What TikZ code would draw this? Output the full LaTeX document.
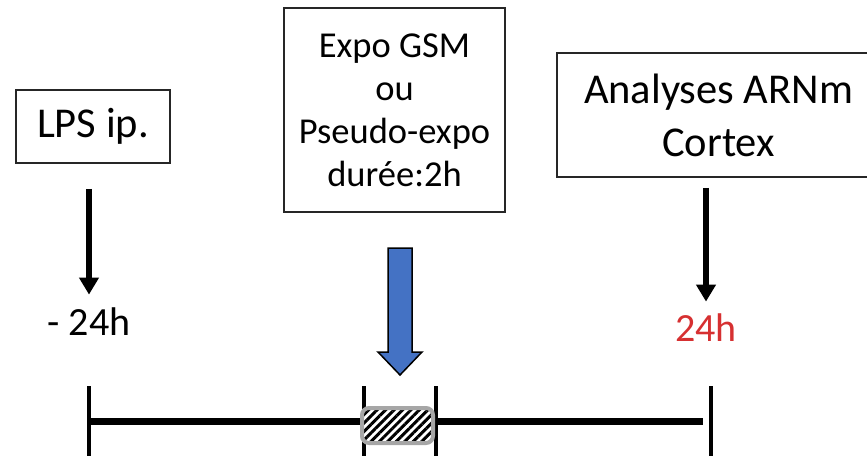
\documentclass[tikz,border=0pt]{standalone}
\usepackage{fontspec}
\setmainfont{Carlito}
\usetikzlibrary{arrows.meta,patterns.meta}
\definecolor{ppblue}{RGB}{68,114,196}
\definecolor{ppred}{RGB}{214,48,49}

\begin{document}
\begin{tikzpicture}%
        [x=1pt, y=-1pt,
        txtbox/.style={draw=black!85, line width=1.5pt, align=center, inner sep=0pt},
        tarrow/.style={line width=5.5pt, -{Triangle[width=19pt,length=17pt]}},
        bigarrow/.style={draw=black, line width=1.5pt, fill=ppblue, line join=miter},
        axis/.style={line width=7pt},
        tick/.style={line width=3.5pt},
        hatch/.style={draw=black!35, line width=4pt, rounded corners=7pt,
          preaction={fill=white}, pattern={Lines[angle=45,distance=6pt,line width=3pt]}}]
    \useasboundingbox (0,0) rectangle (867,456);
    %
    %% Boxes
    \node[txtbox, minimum width=154, minimum height=73, font=\fontsize{42.5}{50}\selectfont] (lps) at (93,126.5) {LPS ip.};
    \node[txtbox, minimum width=221, minimum height=204, font=\fontsize{36.5}{43}\selectfont] (expo) at (394.5,110) {Expo GSM\\ou\\Pseudo-expo\\durée:2h};
    \node[txtbox, minimum width=323, minimum height=124, font=\fontsize{42.5}{53}\selectfont] (arn) at (718.5,115) {Analyses ARNm\\Cortex};
    %
    %% Times
    \node[font=\fontsize{40}{44}\selectfont] (tmoins) at (89,322) {- 24h};
    \node[font=\fontsize{40}{44}\selectfont, text=ppred] (tplus) at (706,328) {24h};
    %
    %% Arrows
    \draw[tarrow, shorten <=25pt, shorten >=10pt] (lps.south -| tmoins) -- (tmoins.north);
    \draw[tarrow, shorten <=10pt, shorten >=9pt] (arn.south -| tplus) -- (tplus.north);
    \draw[bigarrow] (388,248) -- (412,248) -- (412,352) -- (422,352) -- (400,375) -- (378,352) -- (388,352) -- cycle;
    %
    %% Time line
    \draw[axis] (89,421.5) -- (703,421.5);
    \foreach \x in {89,364,436,711}
        \draw[tick] (\x,386) -- (\x,456);
    \draw[hatch] (362,408) rectangle (433,443);
\end{tikzpicture}
\end{document}
